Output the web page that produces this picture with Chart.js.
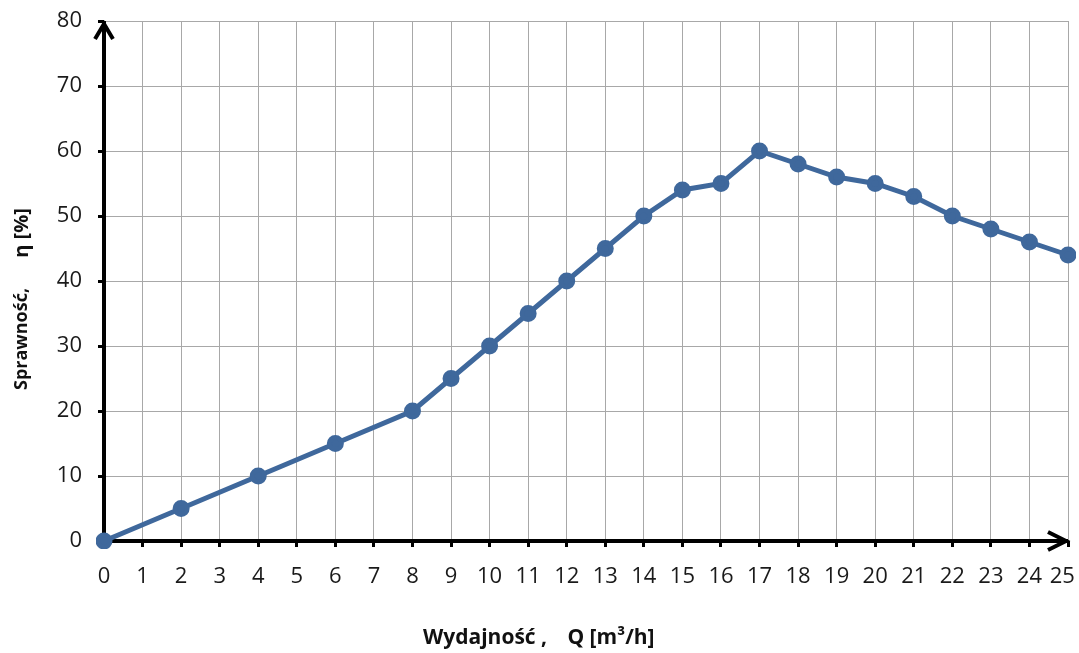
<!DOCTYPE html>
<html>
<head>
<meta charset="utf-8">
<script src="https://cdn.jsdelivr.net/npm/chart.js@4.4.1/dist/chart.umd.min.js"></script>
<style>
  html, body { margin: 0; padding: 0; background: #fff; }
  #wrap { width: 1079px; height: 653px; }
</style>
</head>
<body>
<div id="wrap"><canvas id="chart"></canvas></div>
<script>
// odczyt z wykresu
const flowQ = [0, 2, 4, 6, 8, 9, 10, 11, 12, 13, 14, 15, 16, 17, 18, 19, 20, 21, 22, 23, 24, 25];
const efficiency = [0, 5, 10, 15, 20, 25, 30, 35, 40, 45, 50, 54, 55, 60, 58, 56, 55, 53, 50, 48, 46, 44];
const xTitleParts = ['Wydajność ,', 'Q [m³/h]'];
const yTitleParts = ['Sprawność,', 'η [%]'];

const lineColor = '#3f689c';
const labelFont = { family: 'Open Sans, sans-serif', size: 22 };

// osie ze strzałkami (pod serią) + tytuły osi
const axesArrows = {
    id: 'axesArrows',
    beforeDatasetsDraw(chart) {
        const { ctx, chartArea: a } = chart;
        ctx.save();
        ctx.strokeStyle = '#000';
        ctx.lineWidth = 4;
        ctx.lineCap = 'butt';
        ctx.beginPath();
        ctx.moveTo(a.left, a.bottom + 2);
        ctx.lineTo(a.left, a.top);
        ctx.moveTo(a.left - 2, a.bottom);
        ctx.lineTo(a.right, a.bottom);
        ctx.stroke();
        ctx.lineJoin = 'miter';
        ctx.beginPath();
        ctx.moveTo(a.left - 9, a.top + 18);
        ctx.lineTo(a.left, a.top + 3);
        ctx.lineTo(a.left + 9, a.top + 18);
        ctx.moveTo(a.right - 20, a.bottom - 9);
        ctx.lineTo(a.right - 2, a.bottom);
        ctx.lineTo(a.right - 20, a.bottom + 9);
        ctx.stroke();

        ctx.fillStyle = '#111';
        ctx.textAlign = 'center';
        ctx.textBaseline = 'middle';
        ctx.font = 'bold 21px "Open Sans", sans-serif';
        ctx.fillText(xTitleParts[0], 485, 638);
        ctx.fillText(xTitleParts[1], 611, 638);
        ctx.font = 'bold 18px "Open Sans", sans-serif';
        ctx.translate(22, 0);
        ctx.rotate(-Math.PI / 2);
        ctx.fillText(yTitleParts[0], -339, 0);
        ctx.font = 'bold 20px "Open Sans", sans-serif';
        ctx.fillText(yTitleParts[1], -233, 0);
        ctx.restore();
    }
};

new Chart(document.getElementById('chart'), {
    type: 'line',
    data: {
        datasets: [{
            data: flowQ.map((q, i) => ({ x: q, y: efficiency[i] })),
            borderColor: lineColor,
            backgroundColor: lineColor,
            borderWidth: 5,
            pointRadius: 6,
            pointHoverRadius: 6,
            tension: 0,
            clip: 8
        }]
    },
    options: {
        responsive: true,
        maintainAspectRatio: false,
        animation: false,
        layout: { padding: { top: 21, right: 8, left: 0, bottom: 0 } },
        plugins: {
            legend: { display: false },
            tooltip: { enabled: false }
        },
        scales: {
            x: {
                type: 'linear',
                min: 0,
                max: 25,
                afterFit: (s) => {
                    s.height = 112;
                    s.paddingLeft = 0;
                    s.paddingRight = 0;
                },
                grid: {
                    color: '#a8a8a8',
                    lineWidth: 1,
                    tickColor: '#000',
                    tickLength: 6,
                    tickWidth: 3
                },
                border: { display: false },
                ticks: {
                    stepSize: 1,
                    autoSkip: false,
                    color: '#1a1a1a',
                    font: labelFont,
                    padding: 17,
                    maxRotation: 0,
                    // ostatnia etykieta przesunięta w lewo, jak w oryginale
                    callback: (v) => v === 25 ? '25\u00a0\u00a0' : String(v)
                }
            },
            y: {
                min: 0,
                max: 80,
                afterFit: (s) => {
                    s.width = 104;
                    s.paddingTop = 0;
                    s.paddingBottom = 0;
                },
                grid: {
                    color: '#a8a8a8',
                    lineWidth: 1,
                    tickColor: '#000',
                    tickLength: 6,
                    tickWidth: 3
                },
                border: { display: false },
                ticks: {
                    stepSize: 10,
                    color: '#1a1a1a',
                    font: labelFont,
                    padding: 16
                }
            }
        }
    },
    plugins: [axesArrows]
});
</script>
</body>
</html>
